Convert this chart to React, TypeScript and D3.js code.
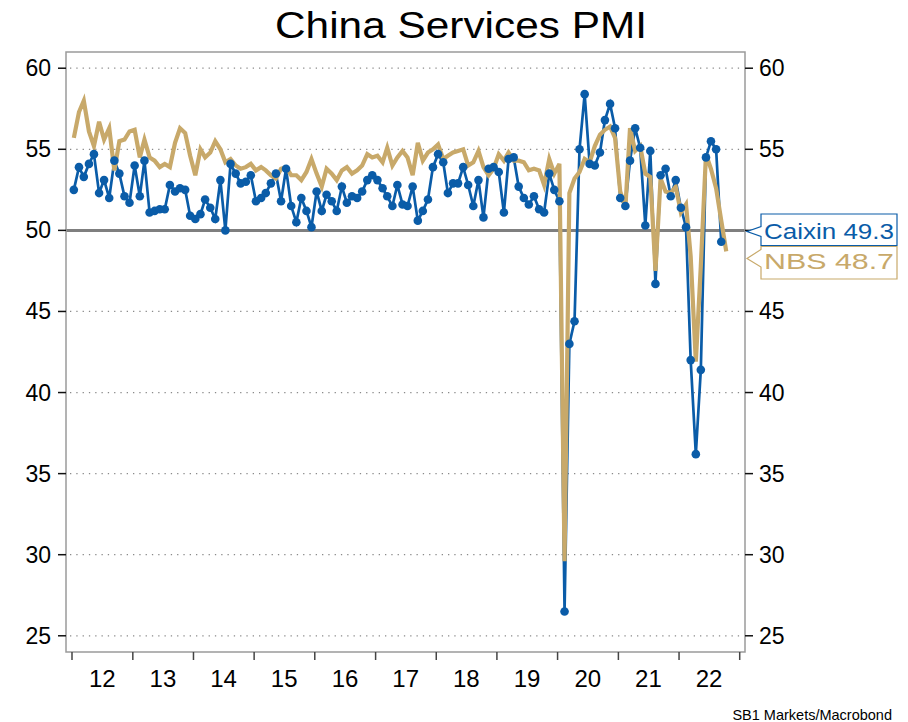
import { useEffect, useRef } from 'react';
import * as d3 from 'd3';

// Caixin services PMI, monthly Jan 2012 - Sep 2022
const caixinValues = [
  52.5, 53.9, 53.3, 54.1, 54.7, 52.3, 53.1, 52.0, 54.3, 53.5, 52.1, 51.7, // 2012
  54.0, 52.1, 54.3, 51.1, 51.2, 51.3, 51.3, 52.8, 52.4, 52.6, 52.5, 50.9, // 2013
  50.7, 51.0, 51.9, 51.4, 50.7, 53.1, 50.0, 54.1, 53.5, 52.9, 53.0, 53.4, // 2014
  51.8, 52.0, 52.3, 52.9, 53.5, 51.8, 53.8, 51.5, 50.5, 52.0, 51.2, 50.2, // 2015
  52.4, 51.2, 52.2, 51.8, 51.2, 52.7, 51.7, 52.1, 52.0, 52.4, 53.1, 53.4, // 2016
  53.1, 52.6, 52.1, 51.5, 52.8, 51.6, 51.5, 52.7, 50.6, 51.2, 51.9, 53.9, // 2017
  54.7, 54.2, 52.3, 52.9, 52.9, 53.9, 52.8, 51.5, 53.1, 50.8, 53.8, 53.9, // 2018
  53.6, 51.1, 54.4, 54.5, 52.7, 52.0, 51.6, 52.1, 51.3, 51.1, 53.5, 52.5, // 2019
  51.8, 26.5, 43.0, 44.4, 55.0, 58.4, 54.1, 54.0, 54.8, 56.8, 57.8, 56.3, // 2020
  52.0, 51.5, 54.3, 56.3, 55.1, 50.3, 54.9, 46.7, 53.4, 53.8, 52.1, 53.1, // 2021
  51.4, 50.2, 42.0, 36.2, 41.4, 54.5, 55.5, 55.0, 49.3,                   // 2022
];

// NBS non-manufacturing PMI, monthly Jan 2012 - Oct 2022
const nbsValues = [
  55.7, 57.3, 58.0, 56.1, 55.2, 56.7, 55.6, 56.3, 53.7, 55.5, 55.6, 56.1, // 2012
  56.2, 54.5, 55.6, 54.5, 54.3, 53.9, 54.1, 53.9, 55.4, 56.3, 56.0, 54.6, // 2013
  53.4, 55.0, 54.5, 54.8, 55.5, 55.0, 54.2, 54.4, 54.0, 53.8, 53.9, 54.1, // 2014
  53.7, 53.9, 53.7, 53.4, 53.2, 53.8, 53.9, 53.4, 53.4, 53.1, 53.6, 54.4, // 2015
  53.5, 52.7, 53.8, 53.5, 53.1, 53.7, 53.9, 53.5, 53.7, 54.0, 54.7, 54.5, // 2016
  54.6, 54.2, 55.1, 54.0, 54.5, 54.9, 54.5, 53.4, 55.4, 54.3, 54.8, 55.0, // 2017
  55.3, 54.4, 54.6, 54.8, 54.9, 55.0, 54.0, 54.2, 54.9, 53.9, 53.4, 53.8, // 2018
  54.7, 54.3, 54.8, 54.3, 54.3, 54.2, 53.7, 53.8, 53.7, 52.8, 54.4, 53.5, // 2019
  54.1, 29.6, 52.3, 53.2, 53.6, 54.4, 54.2, 55.2, 55.9, 56.2, 56.4, 55.7, // 2020
  52.4, 51.4, 56.3, 54.9, 55.2, 53.5, 53.3, 47.5, 53.2, 52.4, 52.3, 52.7, // 2021
  51.1, 51.6, 48.4, 41.9, 47.8, 54.7, 53.8, 52.6, 50.6, 48.7,             // 2022
];

const yearLabels = ['12', '13', '14', '15', '16', '17', '18', '19', '20', '21', '22'];
const yTicks = [25, 30, 35, 40, 45, 50, 55, 60];

const BLUE = '#0a5ca8';
const TAN = '#c8a96a';
const FONT = '"Liberation Sans", Arial, Helvetica, sans-serif';

export default function App() {
  const svgRef = useRef<SVGSVGElement>(null);

  useEffect(() => {
    if (!svgRef.current) return;
    const width = 908;
    const height = 722;
    const plot = { left: 66, right: 745, top: 52, bottom: 652 };

    const svg = d3.select(svgRef.current);
    svg.selectAll('*').remove();
    svg.attr('width', width).attr('height', height);

    const monthDate = (i: number) => new Date(2012, i, 12);

    const x = d3.scaleTime()
      .domain([new Date(2012, 0, 1), new Date(2023, 0, 1)])
      .range([72, 739.7]);
    const y = d3.scaleLinear().domain([24, 61]).range([plot.bottom, plot.top]);

    // dotted grid
    svg.append('g')
      .selectAll('line')
      .data(yTicks.filter((d) => d !== 50))
      .enter()
      .append('line')
      .attr('x1', plot.left + 4).attr('x2', plot.right - 2)
      .attr('y1', (d) => y(d)).attr('y2', (d) => y(d))
      .attr('stroke', '#8a8a8a')
      .attr('stroke-width', 1.3)
      .attr('stroke-dasharray', '1.3,5');

    // 50 line
    svg.append('line')
      .attr('x1', plot.left).attr('x2', plot.right)
      .attr('y1', y(50)).attr('y2', y(50))
      .attr('stroke', '#7f7f7f')
      .attr('stroke-width', 3);

    // frame
    svg.append('rect')
      .attr('x', plot.left).attr('y', plot.top)
      .attr('width', plot.right - plot.left)
      .attr('height', plot.bottom - plot.top)
      .attr('fill', 'none')
      .attr('stroke', '#9a9a9a')
      .attr('stroke-width', 1.5);

    // y ticks + labels both sides (right "50" sits under the Caixin tag)
    yTicks.forEach((v) => {
      svg.append('line')
        .attr('x1', plot.left - 8).attr('x2', plot.left)
        .attr('y1', y(v)).attr('y2', y(v))
        .attr('stroke', '#111').attr('stroke-width', 1.5);
      svg.append('line')
        .attr('x1', plot.right).attr('x2', plot.right + 8)
        .attr('y1', y(v)).attr('y2', y(v))
        .attr('stroke', '#111').attr('stroke-width', 1.5);
      svg.append('text')
        .attr('x', plot.left - 15).attr('y', y(v) + 8)
        .attr('text-anchor', 'end')
        .attr('font-size', 23).attr('font-family', FONT).attr('fill', '#000')
        .text(v);
      if (v !== 50) {
        svg.append('text')
          .attr('x', plot.right + 14).attr('y', y(v) + 8)
          .attr('font-size', 23).attr('font-family', FONT).attr('fill', '#000')
          .text(v);
      }
    });

    // x ticks at year boundaries, labels mid-year
    d3.range(2012, 2024).forEach((yr) => {
      const xx = x(new Date(yr, 0, 1));
      svg.append('line')
        .attr('x1', xx).attr('x2', xx)
        .attr('y1', plot.bottom).attr('y2', plot.bottom + 8)
        .attr('stroke', '#444').attr('stroke-width', 1.5);
    });
    yearLabels.forEach((lab, i) => {
      svg.append('text')
        .attr('x', x(new Date(2012 + i, 6, 1)))
        .attr('y', 687)
        .attr('text-anchor', 'middle')
        .attr('font-size', 24).attr('font-family', FONT).attr('fill', '#000')
        .text(lab);
    });

    // series
    const lineGen = d3.line<number>()
      .x((_, i) => x(monthDate(i)))
      .y((d) => y(d));

    svg.append('path')
      .attr('d', lineGen(caixinValues))
      .attr('fill', 'none')
      .attr('stroke', BLUE)
      .attr('stroke-width', 2.7);

    svg.append('path')
      .attr('d', lineGen(nbsValues))
      .attr('fill', 'none')
      .attr('stroke', TAN)
      .attr('stroke-width', 4.2);

    svg.append('g')
      .selectAll('circle')
      .data(caixinValues)
      .enter()
      .append('circle')
      .attr('cx', (_, i) => x(monthDate(i)))
      .attr('cy', (d) => y(d))
      .attr('r', 4.3)
      .attr('fill', BLUE);

    // value tags on the right
    const tag = (top: number, bottom: number, tipY: number, upY: number, lowY: number,
      color: string, label: string, baseline: number) => {
      const l = 761;
      const r = 897;
      svg.append('path')
        .attr('d', `M${l},${top} L${r},${top} L${r},${bottom} L${l},${bottom} L${l},${lowY} L${plot.right + 2},${tipY} L${l},${upY} Z`)
        .attr('fill', '#fff')
        .attr('stroke', color)
        .attr('stroke-width', 1.2);
      svg.append('text')
        .attr('x', l + 3).attr('y', baseline)
        .attr('font-size', 22).attr('font-family', FONT).attr('fill', color)
        .attr('textLength', 130).attr('lengthAdjust', 'spacingAndGlyphs')
        .text(label);
    };
    const lastCaixin = caixinValues[caixinValues.length - 1];
    const lastNbs = nbsValues[nbsValues.length - 1];
    tag(214, 245.5, 231.5, 226.5, 236.5, BLUE, `Caixin ${lastCaixin.toFixed(1)}`, 238.5);
    tag(246.5, 279, 258.5, 249.5, 267, TAN, `NBS ${lastNbs.toFixed(1)}`, 269);

    // title
    svg.append('text')
      .attr('x', 461).attr('y', 38)
      .attr('text-anchor', 'middle')
      .attr('font-size', 37).attr('font-family', FONT).attr('fill', '#000')
      .attr('textLength', 372).attr('lengthAdjust', 'spacingAndGlyphs')
      .text('China Services PMI');

    // source
    svg.append('text')
      .attr('x', 892).attr('y', 720)
      .attr('text-anchor', 'end')
      .attr('font-size', 14.5).attr('font-family', FONT).attr('fill', '#000')
      .text('SB1 Markets/Macrobond');
  }, []);

  return (
    <div style={{ position: 'absolute', left: 0, top: 0 }}>
      <svg ref={svgRef} style={{ display: 'block', background: '#fff' }} />
    </div>
  );
}
